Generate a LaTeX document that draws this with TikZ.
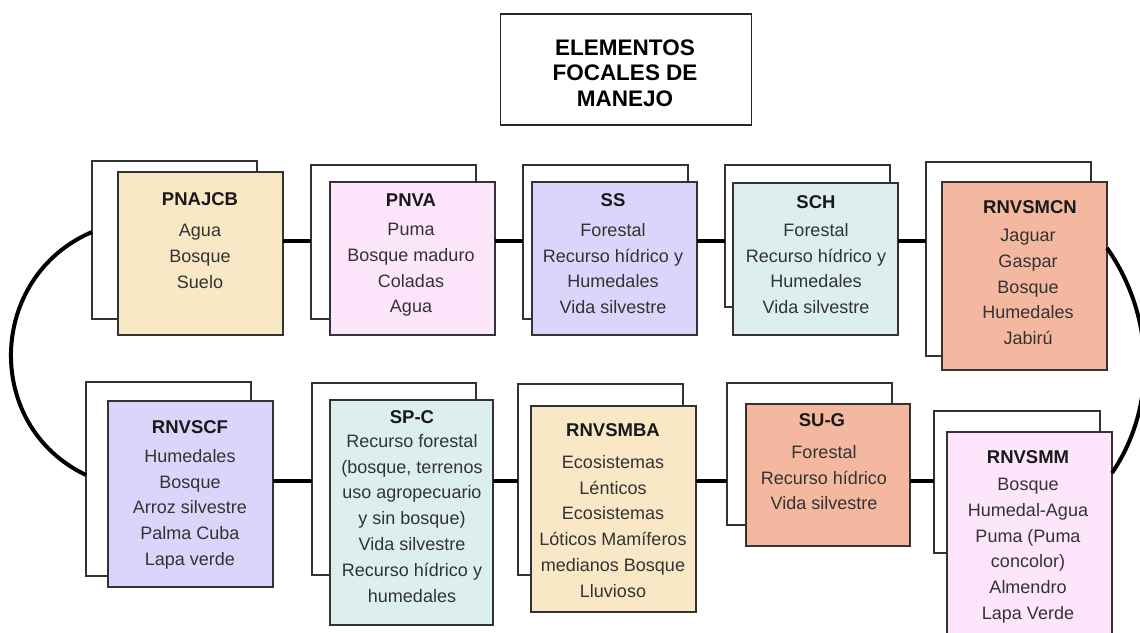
\documentclass[tikz,border=0pt]{standalone}
\usepackage{fontspec}
\setmainfont{Liberation Sans}
\definecolor{cyel}{HTML}{F9E8C6}
\definecolor{cpink}{HTML}{FDE6FC}
\definecolor{clav}{HTML}{DAD5FA}
\definecolor{ccyan}{HTML}{DCEEED}
\definecolor{csal}{HTML}{F4B8A1}
\tikzset{
  box/.style={draw=black!80, line width=1.3pt, rectangle, anchor=north west, inner sep=0pt, outer sep=0pt},
  backbox/.style={box, fill=white},
  conn/.style={line width=4pt, black},
  head/.style={font=\fontsize{18.5}{22}\selectfont\bfseries, inner sep=0pt, text=black!90},
  body/.style={font=\fontsize{18}{25.8}\selectfont, align=center, anchor=north, inner sep=0pt, text=black!80},
  titlebox/.style={draw=black!85, line width=1.3pt, rectangle, inner sep=0pt},
  titletext/.style={font=\fontsize{22.5}{25.5}\selectfont\bfseries, align=center, inner sep=0pt}
}
\newcommand\mybox[6]{\node[#6, minimum width={#4-#2}, minimum height={#5-#3}] (#1) at (#2,#3) {};}
\begin{document}
\begin{tikzpicture}[x=1pt,y=-1pt]
\useasboundingbox (0,0) rectangle (1140,632);
\clip (0,0) rectangle (1140,632);
\fill[white] (0,0) rectangle (1140,632);

% title
\node[titlebox, minimum width=251, minimum height=111] (title) at (626,69.5) {};
\node[titletext] (titleT) at (625,73) {ELEMENTOS\\FOCALES DE\\MANEJO};

% back boxes top
\mybox{B1}{92}{161}{257}{319}{backbox}
\mybox{B2}{311}{165}{476}{319}{backbox}
\mybox{B3}{523}{165}{688}{319}{backbox}
\mybox{B4}{725}{165}{890}{307}{backbox}
\mybox{B5}{926}{162}{1091}{356}{backbox}
% front boxes top
\mybox{F1}{118}{172}{283}{335}{box, fill=cyel}
\mybox{F2}{330}{182}{495}{335}{box, fill=cpink}
\mybox{F3}{532}{182}{697}{335}{box, fill=clav}
\mybox{F4}{733}{183}{898}{335}{box, fill=ccyan}
\mybox{F5}{942}{182}{1107}{370}{box, fill=csal}

% back boxes bottom
\mybox{B6}{86}{382}{251}{576}{backbox}
\mybox{B7}{312}{383}{476}{575}{backbox}
\mybox{B8}{518}{384}{683}{575}{backbox}
\mybox{B9}{727}{383}{892}{525}{backbox}
\mybox{B10}{934}{411}{1100}{553}{backbox}
% front boxes bottom
\mybox{F6}{108}{401}{273}{587}{box, fill=clav}
\mybox{F7}{330}{400}{493}{625}{box, fill=ccyan}
\mybox{F8}{531}{406}{696}{612}{box, fill=cyel}
\mybox{F9}{746}{404}{910}{546}{box, fill=csal}
\mybox{F10}{947}{432}{1112}{660}{box, fill=cpink}

% texts top row
\node[head] (H1) at (200,199) {PNAJCB};
\node[body] (T1) at (200,224) {Agua\\Bosque\\Suelo};
\node[head] (H2) at (411,200) {PNVA};
\node[body] (T2) at (411,223) {Puma\\Bosque maduro\\Coladas\\Agua};
\node[head] (H3) at (613,200) {SS};
\node[body] (T3) at (613,223) {Forestal\\Recurso hídrico y\\Humedales\\Vida silvestre};
\node[head] (H4) at (816,202) {SCH};
\node[body] (T4) at (816,223) {Forestal\\Recurso hídrico y\\Humedales\\Vida silvestre};
\node[head] (H5) at (1030,207) {RNVSMCN};
\node[body] (T5) at (1028,229) {Jaguar\\Gaspar\\Bosque\\Humedales\\Jabirú};

% texts bottom row
\node[head] (H6) at (190,427) {RNVSCF};
\node[body] (T6) at (190,449) {Humedales\\Bosque\\Arroz silvestre\\Palma Cuba\\Lapa verde};
\node[head] (H7) at (412,417) {SP-C};
\node[body] (T7) at (412,434) {Recurso forestal\\(bosque, terrenos\\uso agropecuario\\y sin bosque)\\Vida silvestre\\Recurso hídrico y\\humedales};
\node[head] (H8) at (613,430) {RNVSMBA};
\node[body] (T8) at (613,455) {Ecosistemas\\Lénticos\\Ecosistemas\\Lóticos Mamíferos\\medianos Bosque\\Lluvioso};
\node[head] (H9) at (822,420) {SU-G};
\node[body] (T9) at (824,445) {Forestal\\Recurso hídrico\\Vida silvestre};
\node[head] (H10) at (1028,457) {RNVSMM};
\node[body] (T10) at (1028,478) {Bosque\\Humedal-Agua\\Puma (Puma\\concolor)\\Almendro\\Lapa Verde};

% connectors top
\draw[conn] (F1.east |- 0,241) -- (B2.west |- 0,241);
\draw[conn] (F2.east |- 0,241) -- (B3.west |- 0,241);
\draw[conn] (F3.east |- 0,241) -- (B4.west |- 0,241);
\draw[conn] (F4.east |- 0,241) -- (B5.west |- 0,241);
% connectors bottom
\draw[conn] (F6.east |- 0,481) -- (B7.west |- 0,481);
\draw[conn] (F7.east |- 0,481) -- (B8.west |- 0,481);
\draw[conn] (F8.east |- 0,481) -- (B9.west |- 0,481);
\draw[conn] (F9.east |- 0,481) -- (B10.west |- 0,481);
% arcs
\draw[conn] (B1.west |- 0,232) .. controls (-13,277) and (-17,426) .. (B6.west |- 0,475);
\draw[conn] (F5.east |- 0,248) .. controls (1154,315) and (1158,405) .. (F10.east |- 0,473);
\end{tikzpicture}
\end{document}
